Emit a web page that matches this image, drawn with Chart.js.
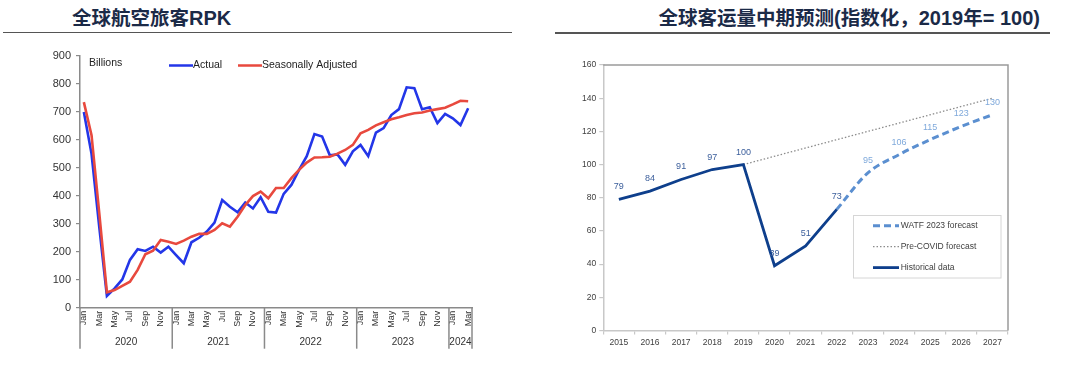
<!DOCTYPE html>
<html><head><meta charset="utf-8">
<script src="https://cdn.jsdelivr.net/npm/chart.js@4.4.1/dist/chart.umd.min.js"></script>
<style>
html,body{margin:0;padding:0;background:#fff;width:1080px;height:373px;overflow:hidden;position:relative}
.t{position:absolute;top:4px;line-height:26px;font-weight:700;color:#1b2a47;font-family:'Noto Sans CJK SC','Liberation Sans',sans-serif;font-size:19.5px;white-space:nowrap}
.t .a{font-family:'Liberation Sans',Arial,sans-serif;font-size:20px}
.rule{position:absolute;height:1.5px;background:#555}
canvas{position:absolute;top:0}
</style></head><body>
<div class="t" style="left:72px">全球航空旅客<span class="a">RPK</span></div>
<div class="t" style="right:40px">全球客运量中期预测<span class="a">(</span>指数化，<span class="a">2019</span>年<span class="a">= 100)</span></div>
<div class="rule" style="left:3px;width:509px;top:31.5px"></div>
<div class="rule" style="left:555px;width:495px;top:32px"></div>
<canvas id="c1" width="540" height="373" style="left:0"></canvas>
<canvas id="c2" width="540" height="373" style="left:540px"></canvas>
<script>
// ---------- Left chart data ----------
const monthLabels = ['Jan','Feb','Mar','Apr','May','Jun','Jul','Aug','Sep','Oct','Nov','Dec',
 'Jan','Feb','Mar','Apr','May','Jun','Jul','Aug','Sep','Oct','Nov','Dec',
 'Jan','Feb','Mar','Apr','May','Jun','Jul','Aug','Sep','Oct','Nov','Dec',
 'Jan','Feb','Mar','Apr','May','Jun','Jul','Aug','Sep','Oct','Nov','Dec',
 'Jan','Feb','Mar'];
const yearLabels = ['2020','2021','2022','2023','2024'];
const monthsPerYear = [12,12,12,12,3];
const actual = [700,550,290,42,69,101,171,209,203,218,197,218,
 188,159,234,250,272,304,385,361,341,376,355,395,
 343,340,407,439,493,542,621,612,545,548,511,559,
 582,542,626,642,689,710,788,785,710,717,660,693,
 677,653,713];
const seasonal = [735,617,340,55,63,78,93,135,191,204,242,236,
 228,240,254,264,264,278,302,290,325,367,399,415,
 391,428,428,463,493,519,537,538,540,551,564,582,
 624,636,652,663,674,681,689,695,698,705,710,715,
 727,740,738];
const leftUnit = 'Billions';

// ---------- Right chart data ----------
const years = ['2015','2016','2017','2018','2019','2020','2021','2022','2023','2024','2025','2026','2027'];
const historical = [79,84,91,97,100,39,51,73,null,null,null,null,null];
const watf2023 = [null,null,null,null,null,null,null,73,95,106,115,123,130];
const preCovid = [null,null,null,null,100,null,null,null,null,null,null,null,140];

const FONT = "'Liberation Sans', Arial, sans-serif";

// ---------- Left chart ----------
const leftDecor = {
  id:'leftDecor',
  afterDraw(chart){
    const ctx = chart.ctx, x = chart.scales.x, a = chart.chartArea;
    ctx.save();
    ctx.strokeStyle = '#8a8a8a'; ctx.lineWidth = 1.5;
    ctx.fillStyle = '#333'; ctx.font = '10px ' + FONT;
    ctx.textAlign = 'center'; ctx.textBaseline = 'middle';
    let start = 0;
    const edge = i => i <= 0 ? a.left : (i >= monthLabels.length ? a.right :
      (x.getPixelForValue(i-1) + x.getPixelForValue(i)) / 2);
    for (let k = 0; k <= yearLabels.length; k++) {
      const px = edge(start);
      ctx.beginPath(); ctx.moveTo(px, a.bottom); ctx.lineTo(px, a.bottom + 41); ctx.stroke();
      if (k < yearLabels.length) {
        const end = start + monthsPerYear[k];
        ctx.fillText(yearLabels[k], (edge(start) + edge(end)) / 2, a.bottom + 35);
        start = end;
      }
    }
    ctx.textAlign = 'left'; ctx.fillStyle = '#222'; ctx.font = '10.5px ' + FONT;
    ctx.fillText(leftUnit, 89, 63.5);
    const items = [[169, chart.data.datasets[0]], [238, chart.data.datasets[1]]];
    items.forEach(([lx, ds]) => {
      ctx.strokeStyle = ds.borderColor; ctx.lineWidth = 2.5;
      ctx.beginPath(); ctx.moveTo(lx, 65.5); ctx.lineTo(lx + 24, 65.5); ctx.stroke();
      ctx.fillStyle = '#222';
      ctx.fillText(ds.label, lx + 24, 65.5);
    });
    ctx.restore();
  }
};

new Chart(document.getElementById('c1'), {
  type:'line',
  data:{ labels: monthLabels, datasets:[
    {label:'Actual', data: actual, borderColor:'#2336e8', borderWidth:2.6, pointRadius:0, tension:0, order:2},
    {label:'Seasonally Adjusted', data: seasonal, borderColor:'#e8493e', borderWidth:2.6, pointRadius:0, tension:0, order:1}
  ]},
  options:{
    responsive:false, animation:false, devicePixelRatio:1,
    layout:{padding:{left:0,right:68,top:56,bottom:0}},
    plugins:{legend:{display:false}, tooltip:{enabled:false}},
    scales:{
      x:{ offset:true,
        grid:{display:false, drawTicks:false},
        border:{display:true, color:'#8a8a8a', width:1.5},
        ticks:{autoSkip:false, minRotation:90, maxRotation:90, padding:3, color:'#333',
          font:{family:FONT, size:9},
          callback:function(v,i){ return i % 2 === 0 ? this.getLabelForValue(v) : ''; }},
        afterFit:s=>{ s.height = 65.3; }
      },
      y:{ min:0, max:900,
        grid:{display:true, drawOnChartArea:false, drawTicks:true, tickLength:4, color:'#8a8a8a', lineWidth:1.2},
        border:{display:true, color:'#8a8a8a', width:1.5},
        ticks:{stepSize:100, padding:5, color:'#333', font:{family:FONT, size:11}},
        afterFit:s=>{ s.width = 80; }
      }
    }
  },
  plugins:[leftDecor]
});

// ---------- Right chart ----------
const rightDecor = {
  id:'rightDecor',
  afterDraw(chart){
    const ctx = chart.ctx, a = chart.chartArea, xs = chart.scales.x, ys = chart.scales.y;
    ctx.save();
    ctx.strokeStyle = '#9a9a9a'; ctx.lineWidth = 1.5;
    ctx.beginPath(); ctx.moveTo(a.left, a.top); ctx.lineTo(a.right, a.top); ctx.lineTo(a.right, a.bottom); ctx.stroke();
    ctx.font = '9px ' + FONT; ctx.textAlign = 'center'; ctx.textBaseline = 'middle';
    historical.forEach((v,i) => { if (v == null) return;
      ctx.fillStyle = '#3b5e9b';
      ctx.fillText(String(v), xs.getPixelForValue(i), ys.getPixelForValue(v) - 12.5); });
    watf2023.forEach((v,i) => { if (v == null || historical[i] != null) return;
      ctx.fillStyle = '#7fa9db';
      ctx.fillText(String(v), xs.getPixelForValue(i), ys.getPixelForValue(v) - 12.5); });
    ctx.strokeStyle = '#d6d6d6'; ctx.lineWidth = 1;
    ctx.strokeRect(313.5, 215.5, 147.5, 62.5);
    const rows = [225.8, 246.7, 267.6];
    chart.data.datasets.forEach((ds, k) => {
      const y = rows[k];
      ctx.strokeStyle = ds.borderColor; ctx.lineWidth = ds.borderWidth;
      ctx.setLineDash(ds.borderDash || []);
      ctx.beginPath(); ctx.moveTo(333, y); ctx.lineTo(359, y); ctx.stroke();
      ctx.setLineDash([]);
      ctx.fillStyle = '#404040'; ctx.textAlign = 'left'; ctx.font = '8.5px ' + FONT;
      ctx.fillText(ds.label, 360.7, y);
    });
    ctx.restore();
  }
};

new Chart(document.getElementById('c2'), {
  type:'line',
  data:{ labels: years, datasets:[
    {label:'WATF 2023 forecast', data: watf2023, borderColor:'#5b8fd0', borderWidth:3, borderDash:[7,4], pointRadius:0, cubicInterpolationMode:'monotone', order:3},
    {label:'Pre-COVID forecast', data: preCovid, borderColor:'#8c8c8c', borderWidth:1.3, borderDash:[1.5,2], pointRadius:0, spanGaps:true, order:2},
    {label:'Historical data', data: historical, borderColor:'#0e3f8c', borderWidth:2.8, pointRadius:0, tension:0, order:1}
  ]},
  options:{
    responsive:false, animation:false, devicePixelRatio:1,
    layout:{padding:{left:0,right:72,top:65,bottom:0}},
    plugins:{legend:{display:false}, tooltip:{enabled:false}},
    scales:{
      x:{ offset:true,
        grid:{display:true, offset:true, drawOnChartArea:false, drawTicks:true, tickLength:4, color:'#c8c8c8', lineWidth:1.2},
        border:{display:true, color:'#c8c8c8', width:1.5},
        ticks:{padding:3, color:'#404040', maxRotation:0, autoSkip:false, font:{family:FONT, size:8.5}},
        afterFit:s=>{ s.height = 42.5; }
      },
      y:{ min:0, max:160,
        grid:{display:true, drawOnChartArea:false, drawTicks:true, tickLength:4, color:'#c8c8c8', lineWidth:1.2},
        border:{display:true, color:'#c8c8c8', width:1.5},
        ticks:{stepSize:20, padding:3, color:'#404040', font:{family:FONT, size:8.5}},
        afterFit:s=>{ s.width = 63.3; }
      }
    }
  },
  plugins:[rightDecor]
});
</script>
</body></html>
